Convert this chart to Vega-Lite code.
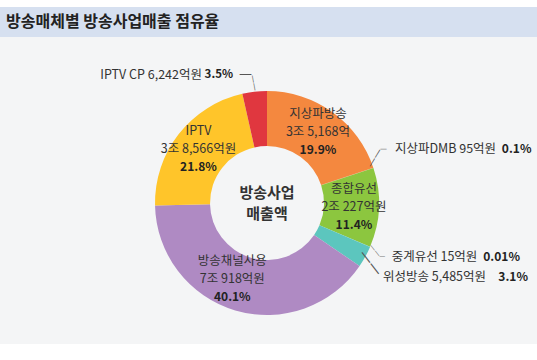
{
  "$schema": "https://vega.github.io/schema/vega-lite/v6.json",
  "background": "white",
  "padding": {"top": 7, "left": 0, "right": 0, "bottom": 0},
  "spacing": 0,
  "config": {"view": {"stroke": null}, "font": "Noto Sans CJK KR"},
  "datasets": {
    "share": [
      {"order": 1, "name": "지상파방송", "value": 35168, "amt": "3조 5,168억", "full": "지상파방송 3조 5,168억", "pct": "19.9%"},
      {"order": 2, "name": "지상파DMB", "value": 95, "amt": "95억원", "full": "지상파DMB 95억원", "pct": "0.1%"},
      {"order": 3, "name": "종합유선", "value": 20227, "amt": "2조 227억원", "full": "종합유선 2조 227억원", "pct": "11.4%"},
      {"order": 4, "name": "중계유선", "value": 15, "amt": "15억원", "full": "중계유선 15억원", "pct": "0.01%"},
      {"order": 5, "name": "위성방송", "value": 5485, "amt": "5,485억원", "full": "위성방송 5,485억원", "pct": "3.1%"},
      {"order": 6, "name": "방송채널사용", "value": 70918, "amt": "7조 918억원", "full": "방송채널사용 7조 918억원", "pct": "40.1%"},
      {"order": 7, "name": "IPTV", "value": 38566, "amt": "3조 8,566억원", "full": "IPTV 3조 8,566억원", "pct": "21.8%"},
      {"order": 8, "name": "IPTV CP", "value": 6242, "amt": "6,242억원", "full": "IPTV CP 6,242억원", "pct": "3.5%"}
    ]
  },
  "vconcat": [
    {
      "width": 537,
      "height": 30,
      "view": {"fill": "#D6E0F0", "stroke": null},
      "data": {"values": [{"t": "방송매체별 방송사업매출 점유율"}]},
      "mark": {"type": "text", "align": "left", "baseline": "middle", "dx": -262.5, "fontSize": 16, "fontWeight": "bold", "color": "#222222", "font": "Noto Sans CJK KR"},
      "encoding": {"text": {"field": "t", "type": "nominal"}}
    },
    {
      "width": 537,
      "height": 307,
      "view": {"fill": "#F4F5F6", "stroke": null},
      "data": {"name": "share"},
      "encoding": {
        "theta": {"field": "value", "type": "quantitative", "stack": true},
        "order": {"field": "order", "type": "quantitative"}
      },
      "layer": [
        {
          "mark": {"type": "arc", "radius": 112, "radius2": 57, "xOffset": -1.5, "yOffset": 12.5},
          "encoding": {
            "color": {
              "field": "name", "type": "nominal", "legend": null,
              "scale": {
                "domain": ["지상파방송", "지상파DMB", "종합유선", "중계유선", "위성방송", "방송채널사용", "IPTV", "IPTV CP"],
                "range": ["#F4883F", "#F4883F", "#8CC63F", "#5CC6BE", "#5CC6BE", "#AF8AC3", "#FFC52A", "#E0373F"]
              }
            }
          }
        },
        {
          "mark": {"type": "text", "radius": 87, "xOffset": -1.5, "yOffset": 12.5, "dy": -18, "fontSize": 12.5, "color": "#333333", "font": "Noto Sans CJK KR"},
          "encoding": {"text": {"condition": {"test": "datum.order===1 || datum.order===3 || datum.order===7", "field": "name"}, "value": ""}}
        },
        {
          "mark": {"type": "text", "radius": 87, "xOffset": -1.5, "yOffset": 12.5, "dy": 0, "fontSize": 12.5, "color": "#333333", "font": "Noto Sans CJK KR"},
          "encoding": {"text": {"condition": {"test": "datum.order===1 || datum.order===3 || datum.order===7", "field": "amt"}, "value": ""}}
        },
        {
          "mark": {"type": "text", "radius": 87, "xOffset": -1.5, "yOffset": 12.5, "dy": 18, "fontSize": 12, "fontWeight": "bold", "color": "#222222", "font": "Noto Sans CJK KR"},
          "encoding": {"text": {"condition": {"test": "datum.order===1 || datum.order===3 || datum.order===7", "field": "pct"}, "value": ""}}
        },
        {
          "mark": {"type": "text", "radius": 87, "xOffset": -1.5, "yOffset": 12.5, "dx": -10, "dy": -25, "fontSize": 12.5, "color": "#333333", "font": "Noto Sans CJK KR"},
          "encoding": {"text": {"condition": {"test": "datum.order===6", "field": "name"}, "value": ""}}
        },
        {
          "mark": {"type": "text", "radius": 87, "xOffset": -1.5, "yOffset": 12.5, "dx": -10, "dy": -7, "fontSize": 12.5, "color": "#333333", "font": "Noto Sans CJK KR"},
          "encoding": {"text": {"condition": {"test": "datum.order===6", "field": "amt"}, "value": ""}}
        },
        {
          "mark": {"type": "text", "radius": 87, "xOffset": -1.5, "yOffset": 12.5, "dx": -10, "dy": 11, "fontSize": 12, "fontWeight": "bold", "color": "#222222", "font": "Noto Sans CJK KR"},
          "encoding": {"text": {"condition": {"test": "datum.order===6", "field": "pct"}, "value": ""}}
        },
        {
          "mark": {"type": "text", "radius": 112, "xOffset": -0.2, "yOffset": 2.6, "angle": -58.4, "align": "center", "baseline": "middle", "fontSize": 10.2, "color": "#555555", "font": "DejaVu Sans"},
          "encoding": {"text": {"condition": {"test": "datum.order===2", "value": "——"}, "value": ""}}
        },
        {
          "mark": {"type": "text", "radius": 112, "xOffset": -1.5, "yOffset": 12.5, "dx": 6.6, "dy": -19.4, "align": "left", "baseline": "middle", "fontSize": 7, "color": "#555555", "font": "DejaVu Sans"},
          "encoding": {"text": {"condition": {"test": "datum.order===2", "value": "—"}, "value": ""}}
        },
        {
          "mark": {"type": "text", "radius": 112, "xOffset": -1.5, "yOffset": 12.5, "dx": 21.6, "dy": -19.4, "align": "left", "baseline": "middle", "fontSize": 12.5, "color": "#333333", "font": "Noto Sans CJK KR"},
          "encoding": {"text": {"condition": {"test": "datum.order===2", "field": "full"}, "value": ""}}
        },
        {
          "mark": {"type": "text", "radius": 112, "xOffset": -1.5, "yOffset": 12.5, "dx": 158.1, "dy": -19.4, "align": "right", "baseline": "middle", "fontSize": 12, "fontWeight": "bold", "color": "#222222", "font": "Noto Sans CJK KR"},
          "encoding": {"text": {"condition": {"test": "datum.order===2", "field": "pct"}, "value": ""}}
        },
        {
          "mark": {"type": "text", "radius": 112, "xOffset": 3.4, "yOffset": 16.1, "angle": 52, "align": "center", "baseline": "middle", "fontSize": 7, "color": "#555555", "font": "DejaVu Sans"},
          "encoding": {"text": {"condition": {"test": "datum.order===4", "value": "——"}, "value": ""}}
        },
        {
          "mark": {"type": "text", "radius": 112, "xOffset": -1.5, "yOffset": 12.5, "dx": 9.2, "dy": 9.6, "align": "left", "baseline": "middle", "fontSize": 6, "color": "#555555", "font": "DejaVu Sans"},
          "encoding": {"text": {"condition": {"test": "datum.order===4", "value": "—"}, "value": ""}}
        },
        {
          "mark": {"type": "text", "radius": 112, "xOffset": -1.5, "yOffset": 12.5, "dx": 21.6, "dy": 9.8, "align": "left", "baseline": "middle", "fontSize": 12.5, "color": "#333333", "font": "Noto Sans CJK KR"},
          "encoding": {"text": {"condition": {"test": "datum.order===4", "field": "full"}, "value": ""}}
        },
        {
          "mark": {"type": "text", "radius": 112, "xOffset": -1.5, "yOffset": 12.5, "dx": 149.9, "dy": 9.8, "align": "right", "baseline": "middle", "fontSize": 12, "fontWeight": "bold", "color": "#222222", "font": "Noto Sans CJK KR"},
          "encoding": {"text": {"condition": {"test": "datum.order===4", "field": "pct"}, "value": ""}}
        },
        {
          "mark": {"type": "text", "radius": 112, "xOffset": 3.7, "yOffset": 18.8, "angle": 52.1, "align": "center", "baseline": "middle", "fontSize": 14.3, "color": "#555555", "font": "DejaVu Sans"},
          "encoding": {"text": {"condition": {"test": "datum.order===5", "value": "——"}, "value": ""}}
        },
        {
          "mark": {"type": "text", "radius": 112, "xOffset": -1.5, "yOffset": 12.5, "dx": 17.7, "dy": 19.8, "align": "left", "baseline": "middle", "fontSize": 12.5, "color": "#333333", "font": "Noto Sans CJK KR"},
          "encoding": {"text": {"condition": {"test": "datum.order===5", "field": "full"}, "value": ""}}
        },
        {
          "mark": {"type": "text", "radius": 112, "xOffset": -1.5, "yOffset": 12.5, "dx": 162.7, "dy": 19.8, "align": "right", "baseline": "middle", "fontSize": 12, "fontWeight": "bold", "color": "#222222", "font": "Noto Sans CJK KR"},
          "encoding": {"text": {"condition": {"test": "datum.order===5", "field": "pct"}, "value": ""}}
        },
        {
          "mark": {"type": "text", "radius": 112, "xOffset": -2.6, "yOffset": 3.8, "angle": 79.4, "align": "center", "baseline": "middle", "fontSize": 8, "color": "#555555", "font": "DejaVu Sans"},
          "encoding": {"text": {"condition": {"test": "datum.order===8", "value": "——"}, "value": ""}}
        },
        {
          "mark": {"type": "text", "radius": 112, "xOffset": -1.5, "yOffset": 12.5, "dx": -15.6, "dy": -17.2, "align": "left", "baseline": "middle", "fontSize": 13, "color": "#555555", "font": "DejaVu Sans"},
          "encoding": {"text": {"condition": {"test": "datum.order===8", "value": "—"}, "value": ""}}
        },
        {
          "mark": {"type": "text", "radius": 112, "xOffset": -1.5, "yOffset": 12.5, "dx": -52.6, "dy": -16.2, "align": "right", "baseline": "middle", "fontSize": 12.5, "color": "#333333", "font": "Noto Sans CJK KR"},
          "encoding": {"text": {"condition": {"test": "datum.order===8", "field": "full"}, "value": ""}}
        },
        {
          "mark": {"type": "text", "radius": 112, "xOffset": -1.5, "yOffset": 12.5, "dx": -21.6, "dy": -16.2, "align": "right", "baseline": "middle", "fontSize": 11.5, "fontWeight": "bold", "color": "#222222", "font": "Noto Sans CJK KR"},
          "encoding": {"text": {"condition": {"test": "datum.order===8", "field": "pct"}, "value": ""}}
        },
        {
          "transform": [{"filter": "datum.order===1"}],
          "mark": {"type": "text", "radius": 0, "xOffset": -1.5, "yOffset": 12.5, "dy": -10.5, "align": "center", "baseline": "middle", "fontSize": 15, "fontWeight": "bold", "color": "#333333", "font": "Noto Sans CJK KR"},
          "encoding": {"text": {"value": "방송사업"}}
        },
        {
          "transform": [{"filter": "datum.order===1"}],
          "mark": {"type": "text", "radius": 0, "xOffset": -1.5, "yOffset": 12.5, "dy": 10.5, "align": "center", "baseline": "middle", "fontSize": 15, "fontWeight": "bold", "color": "#333333", "font": "Noto Sans CJK KR"},
          "encoding": {"text": {"value": "매출액"}}
        }
      ]
    }
  ]
}
